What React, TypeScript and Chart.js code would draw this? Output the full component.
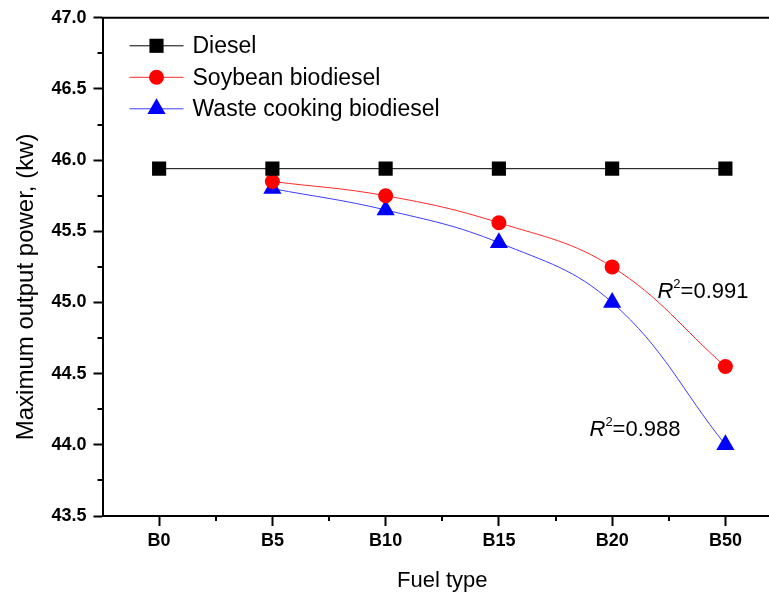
import { useEffect, useRef } from "react";
import { Chart, registerables } from "chart.js";
import { drawPoint } from "chart.js/helpers";

Chart.register(...registerables);

// Fuel blends on the x axis
const fuelTypes = ["B0", "B5", "B10", "B15", "B20", "B50"];

// Maximum output power (kW)
const dieselPower = [45.94, 45.94, 45.94, 45.94, 45.94, 45.94];
const soybeanPower = [null, 45.85, 45.75, 45.56, 45.25, 44.55];
const wasteCookingPower = [null, 45.8, 45.65, 45.42, 45.0, 44.0];

// Axis ranges (x in category positions; the right side runs past the frame)
const xMin = -0.5;
const xMax = 5.385;
const yMin = 43.5;
const yMax = 47.0;
const yStep = 0.5;

// Fit quality labels and where they sit (in data units: category index, kW)
const soybeanR2 = "0.991";
const wasteR2 = "0.988";
const soybeanR2At = [4.4, 45.09];
const wasteR2At = [3.8, 44.12];

const FONT = "'Liberation Sans', Arial, sans-serif";

const toPoints = (values: (number | null)[]) =>
  values.map((y, i) => ({ x: i, y }));

const decorPlugin = {
  id: "decor",
  afterDatasetsDraw(chart: any) {
    const { ctx, chartArea, scales } = chart;
    const xs = scales.x;
    const ys = scales.y;
    ctx.save();

    // top frame line
    ctx.strokeStyle = "#000";
    ctx.lineWidth = 2;
    ctx.beginPath();
    ctx.moveTo(chartArea.left - 1, chartArea.top);
    ctx.lineTo(chartArea.right, chartArea.top);
    ctx.stroke();

    // minor ticks on y
    for (let v = yMin + yStep / 2; v < yMax; v += yStep) {
      const y = Math.round(ys.getPixelForValue(v));
      ctx.beginPath();
      ctx.moveTo(chartArea.left - 5, y);
      ctx.lineTo(chartArea.left, y);
      ctx.stroke();
    }
    // minor ticks on x (between categories)
    for (let i = 0; i < fuelTypes.length; i++) {
      const v = i + 0.5;
      if (v > xMax) break;
      const x = Math.round(xs.getPixelForValue(v));
      ctx.beginPath();
      ctx.moveTo(x, chartArea.bottom);
      ctx.lineTo(x, chartArea.bottom + 5);
      ctx.stroke();
    }

    // legend inside the plot
    const legendX = chartArea.left + 27;
    const legendY = chartArea.top + 28;
    const rowH = 31.5;
    chart.data.datasets.forEach((ds: any, i: number) => {
      const y = legendY + i * rowH;
      ctx.strokeStyle = ds.borderColor;
      ctx.lineWidth = 1;
      ctx.beginPath();
      ctx.moveTo(legendX, y);
      ctx.lineTo(legendX + 54, y);
      ctx.stroke();
      ctx.fillStyle = ds.pointBackgroundColor;
      ctx.strokeStyle = ds.pointBackgroundColor;
      drawPoint(
        ctx,
        {
          pointStyle: ds.pointStyle,
          radius: ds.pointRadius,
          rotation: 0,
          borderWidth: 0,
        },
        legendX + 27,
        y
      );
      ctx.fillStyle = "#000";
      ctx.font = `23px ${FONT}`;
      ctx.textAlign = "left";
      ctx.textBaseline = "middle";
      ctx.fillText(ds.label, legendX + 63, y + 1);
    });

    // R² labels
    const drawR2 = (at: number[], value: string) => {
      const x = xs.getPixelForValue(at[0]);
      const y = ys.getPixelForValue(at[1]) + 8;
      ctx.fillStyle = "#000";
      ctx.textAlign = "left";
      ctx.textBaseline = "alphabetic";
      ctx.font = `italic 22px ${FONT}`;
      ctx.fillText("R", x, y);
      let cx = x + ctx.measureText("R").width;
      ctx.font = `13px ${FONT}`;
      ctx.fillText("2", cx, y - 10);
      cx += ctx.measureText("2").width;
      ctx.font = `22px ${FONT}`;
      ctx.fillText("=" + value, cx, y);
    };
    drawR2(soybeanR2At, soybeanR2);
    drawR2(wasteR2At, wasteR2);

    // axis titles
    ctx.fillStyle = "#000";
    ctx.font = `22px ${FONT}`;
    ctx.textAlign = "center";
    ctx.textBaseline = "alphabetic";
    ctx.fillText("Fuel type", xs.getPixelForValue(2.5), 587);

    ctx.save();
    ctx.translate(33, (chartArea.top + chartArea.bottom) / 2 + 20);
    ctx.rotate(-Math.PI / 2);
    ctx.font = `24px ${FONT}`;
    ctx.fillText("Maximum output power, (kw)", 0, 0);
    ctx.restore();

    ctx.restore();
  },
};

export default function App() {
  const canvasRef = useRef<HTMLCanvasElement | null>(null);

  useEffect(() => {
    const canvas = canvasRef.current;
    if (!canvas) return;
    const chart = new Chart(canvas, {
      type: "line",
      data: {
        datasets: [
          {
            label: "Diesel",
            data: toPoints(dieselPower),
            borderColor: "#000000",
            borderWidth: 1,
            pointStyle: "rect",
            pointRadius: 10,
            pointBackgroundColor: "#000000",
            pointBorderWidth: 0,
            tension: 0,
          },
          {
            label: "Soybean biodiesel",
            data: toPoints(soybeanPower),
            borderColor: "#ff2a2a",
            borderWidth: 1,
            pointStyle: "circle",
            pointRadius: 7.5,
            pointBackgroundColor: "#ff0000",
            pointBorderWidth: 0,
            tension: 0.4,
          },
          {
            label: "Waste cooking biodiesel",
            data: toPoints(wasteCookingPower),
            borderColor: "#3c3cff",
            borderWidth: 1,
            pointStyle: "triangle",
            pointRadius: 10.5,
            pointBackgroundColor: "#0000ff",
            pointBorderWidth: 0,
            tension: 0.4,
          },
        ],
      },
      options: {
        responsive: false,
        animation: false,
        devicePixelRatio: 1,
        layout: {
          autoPadding: false,
          padding: { top: 15, left: 0, right: 0, bottom: 0 },
        },
        plugins: {
          legend: { display: false },
          tooltip: { enabled: false },
        },
        scales: {
          x: {
            type: "linear",
            min: xMin,
            max: xMax,
            border: { display: true, color: "#000", width: 2 },
            grid: {
              display: true,
              drawOnChartArea: false,
              tickLength: 10,
              tickWidth: 2,
              tickColor: "#000",
            },
            afterBuildTicks(scale: any) {
              scale.ticks = fuelTypes.map((_, i) => ({ value: i }));
            },
            ticks: {
              color: "#000",
              padding: 4,
              maxRotation: 0,
              autoSkip: false,
              font: { family: FONT, size: 18, weight: "bold" },
              callback: (v: any) => fuelTypes[Math.round(Number(v))],
            },
            afterFit(scale: any) {
              scale.height = 79;
              scale.paddingLeft = 0;
              scale.paddingRight = 0;
            },
          },
          y: {
            min: yMin,
            max: yMax,
            border: { display: true, color: "#000", width: 2 },
            grid: {
              display: true,
              drawOnChartArea: false,
              tickLength: 9,
              tickWidth: 2,
              tickColor: "#000",
            },
            ticks: {
              stepSize: yStep,
              color: "#000",
              padding: 7,
              font: { family: FONT, size: 18, weight: "bold" },
              callback: (v: any) => Number(v).toFixed(1),
            },
            afterFit(scale: any) {
              scale.width = 102.5;
            },
          },
        },
      },
      plugins: [decorPlugin],
    });
    return () => chart.destroy();
  }, []);

  return (
    <div
      style={{
        position: "fixed",
        left: 0,
        top: 0,
        width: 769,
        height: 595,
        overflow: "hidden",
        background: "#fff",
      }}
    >
      <canvas
        ref={canvasRef}
        width={769}
        height={595}
        style={{ display: "block", width: 769, height: 595 }}
      />
    </div>
  );
}
